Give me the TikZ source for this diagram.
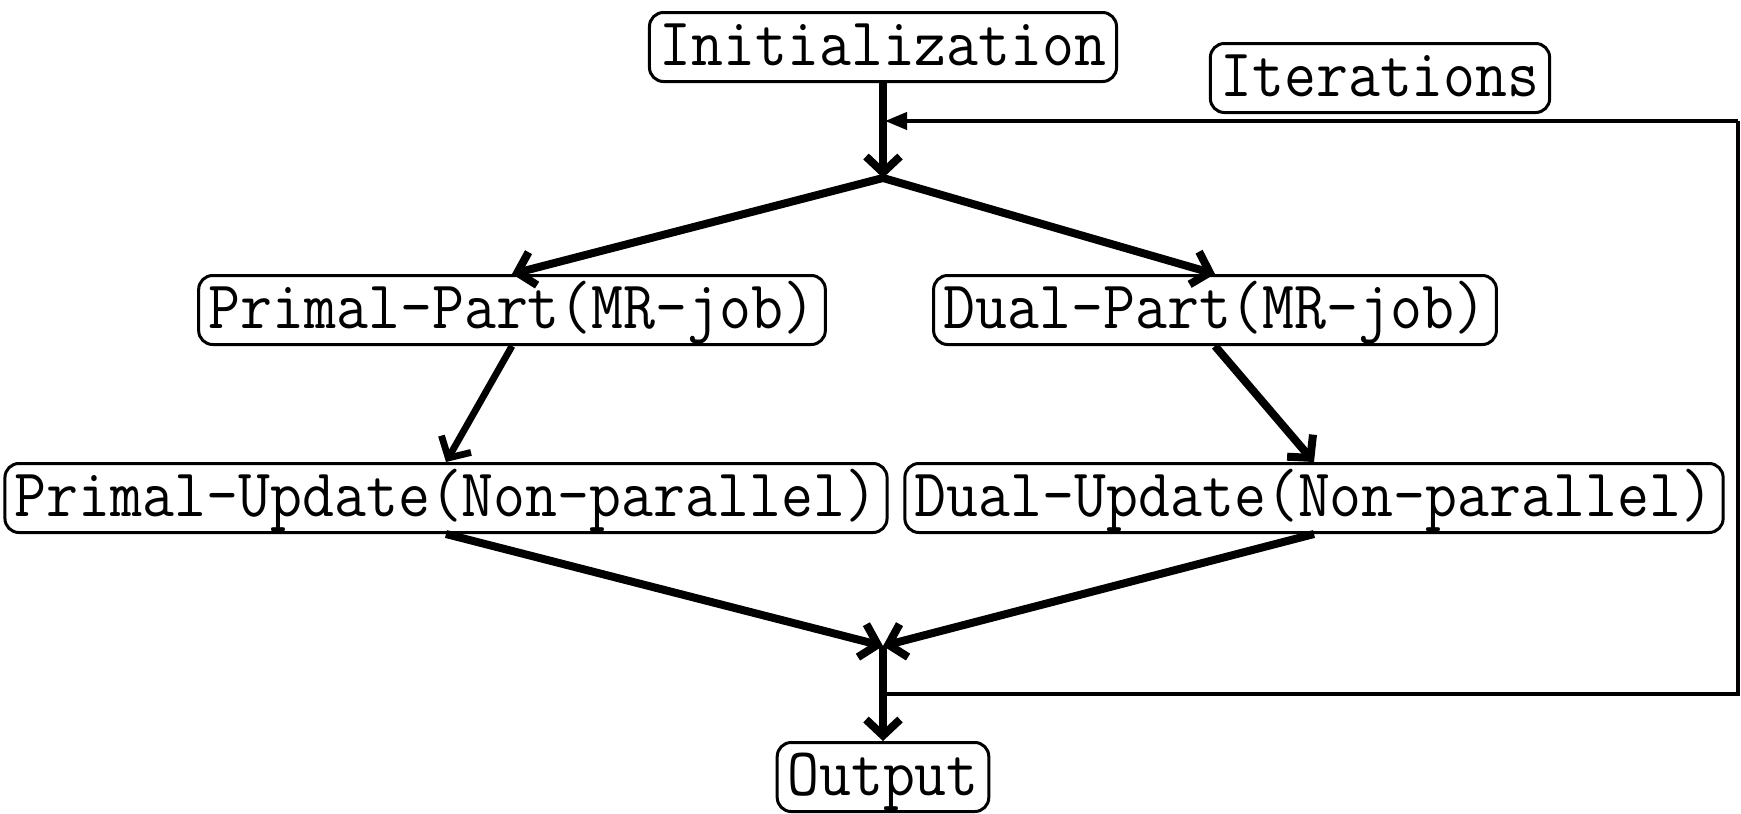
\documentclass[tikz,border=0pt]{standalone}
\usepackage{fontspec}
\usepackage{graphicx}
\usetikzlibrary{arrows.meta}
\newcommand\tallt[1]{\scalebox{1}[1.1]{#1}}
\tikzset{
  box/.style={draw, line width=1.5pt, rounded corners=7pt, inner xsep=5pt, inner ysep=3pt,
    text height=23.5pt, text depth=5pt, font=\fontsize{31}{36}\selectfont\ttfamily},
  thickarrow/.style={line width=4pt, -{Straight Barb[length=8pt,width=17pt]}},
  thickline/.style={line width=4pt},
  loopline/.style={line width=2pt},
  looparrow/.style={line width=2pt, -{Triangle[length=11pt,width=8.5pt]}}
}
\begin{document}
\begin{tikzpicture}[x=0.5pt,y=-0.5pt]
\useasboundingbox (0,0) rectangle (1741,814);
\node[box] (init) at (883,47) {\tallt{Initialization}};
\node[box] (iter) at (1380,78) {\tallt{Iterations}};
\node[box] (pp) at (512,310) {\tallt{Primal-Part(MR-job)}};
\node[box] (dp) at (1215,310) {\tallt{Dual-Part(MR-job)}};
\node[box] (pu) at (446,498) {\tallt{Primal-Update(Non-parallel)}};
\node[box] (du) at (1314,498) {\tallt{Dual-Update(Non-parallel)}};
\node[box] (out) at (883,777) {\tallt{Output}};
\coordinate (j1) at (883,178);
\coordinate (j2) at (883,646);
\coordinate (fbA) at (883,694);
\coordinate (fbB) at (1738,694);
\coordinate (fbC) at (1738,121);
\coordinate (fbD) at (885,121);
\draw[thickarrow] (init.south) -- (j1);
\draw[looparrow] (fbC) -- (fbD);
\draw[loopline] (fbA) -- (fbB) -- (fbC);
\draw[thickarrow] (j1) -- (pp.north);
\draw[thickarrow] (j1) -- (dp.north);
\draw[thickarrow, line width=3.4pt] (pp.south) -- (pu.north);
\draw[thickarrow] (dp.south) -- (du.north);
\draw[thickarrow] (pu.south) -- (j2);
\draw[thickarrow] (du.south) -- (j2);
\draw[thickarrow] (j2) -- (out.north);
\end{tikzpicture}
\end{document}
